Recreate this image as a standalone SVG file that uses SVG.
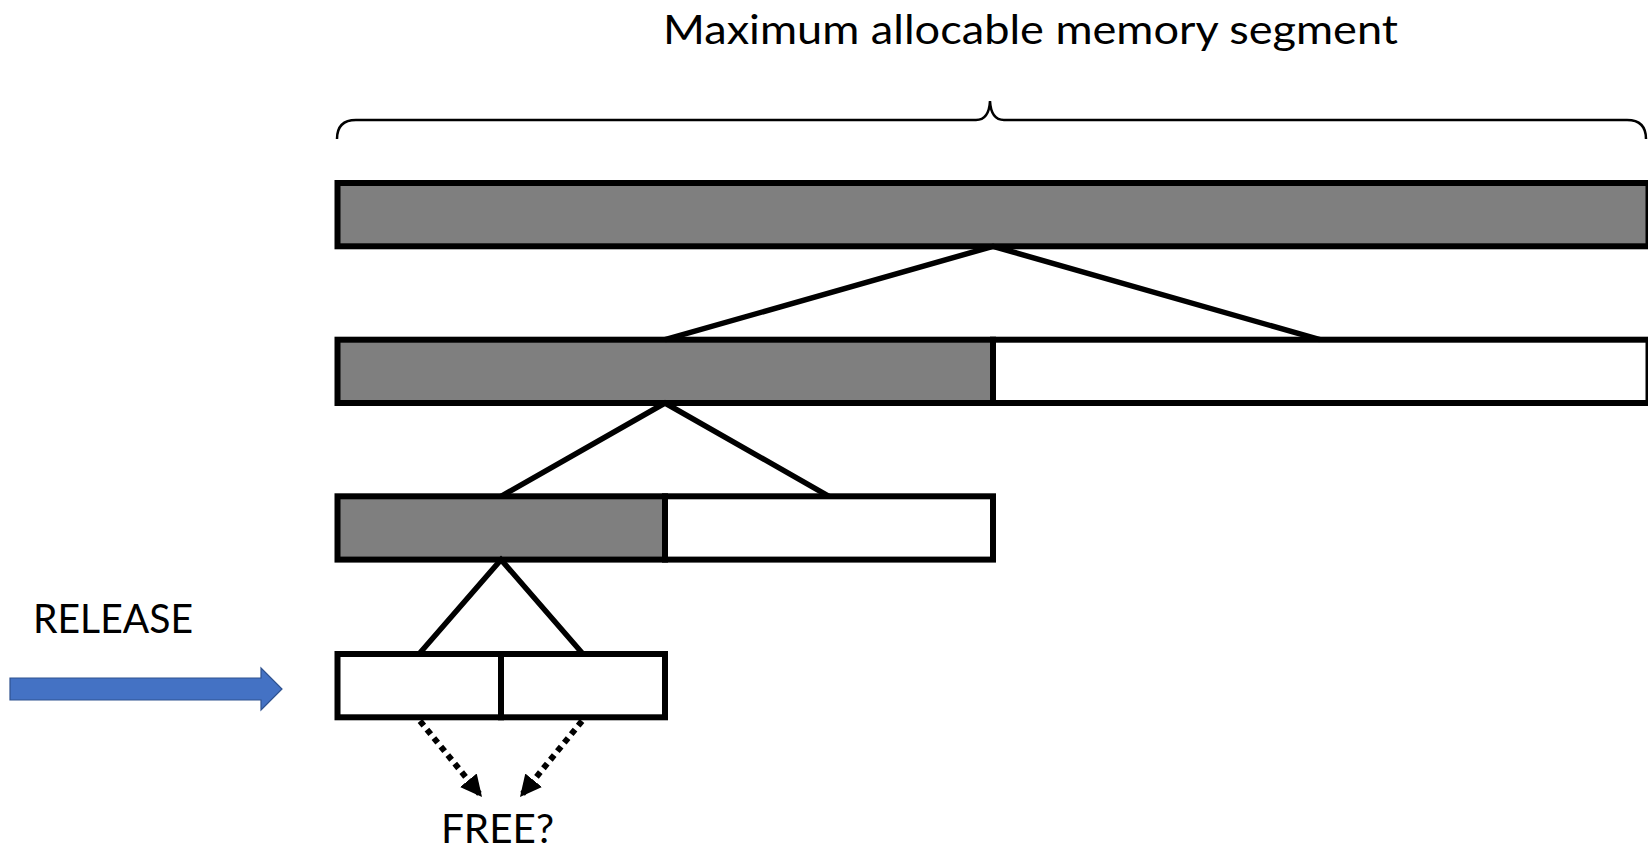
<svg xmlns="http://www.w3.org/2000/svg" width="1648" height="851" viewBox="0 0 1648 851">
  <defs>
    <style>
      .lbl { font-family: Lato, "Open Sans", "Liberation Sans", sans-serif; font-size: 40px; fill: #000; }
      .seg { stroke: #000; stroke-width: 6; }
      .used { fill: #7F7F7F; }
      .free { fill: #FFFFFF; }
      .link { stroke: #000; stroke-width: 5.5; fill: none; }
      .dot { stroke: #000; stroke-width: 6; fill: none; stroke-dasharray: 6 5; }
      .brace { stroke: #000; stroke-width: 2.5; fill: none; }
    </style>
    <marker id="ah" markerUnits="userSpaceOnUse" markerWidth="24" markerHeight="24" viewBox="0 0 20 20" refX="18" refY="10" orient="auto">
      <path d="M0,1 L18,10 L0,19 z" fill="#000"/>
    </marker>
  </defs>
  <rect width="1648" height="851" fill="#FFFFFF"/>

  <g id="title">
    <text class="lbl" x="663" y="44" textLength="735" lengthAdjust="spacingAndGlyphs">Maximum allocable memory segment</text>
  </g>

  <g id="brace">
    <path class="brace" d="M337,139 Q337,120 356,120 L976,120 Q989,120 990,101 Q991,120 1004,120 L1627,120 Q1646,120 1646,139"/>
  </g>

  <g id="bar1">
    <rect class="seg used" x="337.5" y="183" width="1311" height="63.3"/>
  </g>

  <g id="bar2-left">
    <rect class="seg used" x="337.5" y="339.7" width="655.5" height="63.3"/>
  </g>
  <g id="bar2-right">
    <rect class="seg free" x="993" y="339.7" width="655.5" height="63.3"/>
  </g>

  <g id="bar3-left">
    <rect class="seg used" x="337.5" y="496.3" width="327.5" height="63.3"/>
  </g>
  <g id="bar3-right">
    <rect class="seg free" x="665" y="496.3" width="328" height="63.3"/>
  </g>

  <g id="bar4-left">
    <rect class="seg free" x="337.5" y="654" width="163.5" height="63.3"/>
  </g>
  <g id="bar4-right">
    <rect class="seg free" x="501" y="654" width="164" height="63.3"/>
  </g>

  <g id="connectors">
    <polyline class="link" points="665,339.7 993,246.3 1320,339.7"/>
    <polyline class="link" points="501,496.3 665,403 829,496.3"/>
    <polyline class="link" points="419,654 501,559.6 583,654"/>
    <line class="dot" x1="420" y1="721" x2="482" y2="797" marker-end="url(#ah)"/>
    <line class="dot" x1="582" y1="721" x2="520" y2="797" marker-end="url(#ah)"/>
  </g>

  <g id="release-arrow">
    <path d="M10,678 L261,678 L261,668 L282,689 L261,710 L261,700 L10,700 z" fill="#4472C4" stroke="#2F528F" stroke-width="1.2"/>
  </g>

  <g id="release-label">
    <text class="lbl" x="33" y="633" textLength="160" lengthAdjust="spacingAndGlyphs">RELEASE</text>
  </g>

  <g id="free-label">
    <text class="lbl" x="441" y="843" textLength="113" lengthAdjust="spacingAndGlyphs">FREE?</text>
  </g>
</svg>
